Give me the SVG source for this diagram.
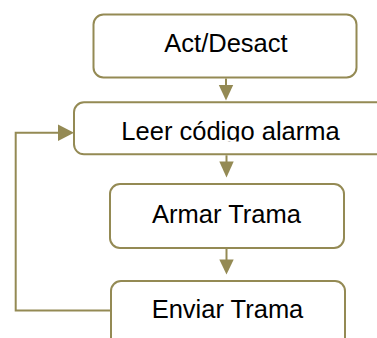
<svg xmlns="http://www.w3.org/2000/svg" width="377" height="338" viewBox="0 0 377 338">
<style>
.box{fill:#fff;stroke:#948A54;stroke-width:2}
.lbl{font-family:"Liberation Sans",Arial,sans-serif;font-size:25.5px;fill:#000;text-anchor:middle}
.con{fill:none;stroke:#948A54;stroke-width:2}
.head{fill:#948A54}
</style>
<defs>
<clipPath id="clip2"><rect x="74" y="103" width="303" height="38.5"/></clipPath>
</defs>
<g id="n1">
<rect class="box" x="93.5" y="14.5" width="263" height="63" rx="10"/>
<text class="lbl" x="226" y="52">Act/Desact</text>
</g>
<g id="n2">
<rect class="box" x="74" y="102.3" width="320" height="52" rx="10"/>
<text class="lbl" x="230.5" y="139.5" clip-path="url(#clip2)">Leer código alarma</text>
</g>
<g id="n3">
<rect class="box" x="110" y="184" width="234" height="64" rx="10"/>
<text class="lbl" x="226.5" y="222.5">Armar Trama</text>
</g>
<g id="n4">
<rect class="box" x="111" y="281" width="234" height="80" rx="10"/>
<text class="lbl" x="227.5" y="318.3">Enviar Trama</text>
</g>
<g id="connectors">
<path class="con" d="M226,78.5 V86"/>
<path class="head" d="M218.8,85 L233.2,85 L226,100.5 Z"/>
<path class="con" d="M226.5,155.3 V162"/>
<path class="head" d="M219.3,161.5 L233.7,161.5 L226.5,177.5 Z"/>
<path class="con" d="M226.5,248.7 V260"/>
<path class="head" d="M219.3,259.5 L233.7,259.5 L226.5,274.5 Z"/>
<path class="con" d="M110,310.5 H15.7 V132.7 H59"/>
<path class="head" d="M58,124.5 L74,132.7 L58,140.9 Z"/>
</g>
</svg>
